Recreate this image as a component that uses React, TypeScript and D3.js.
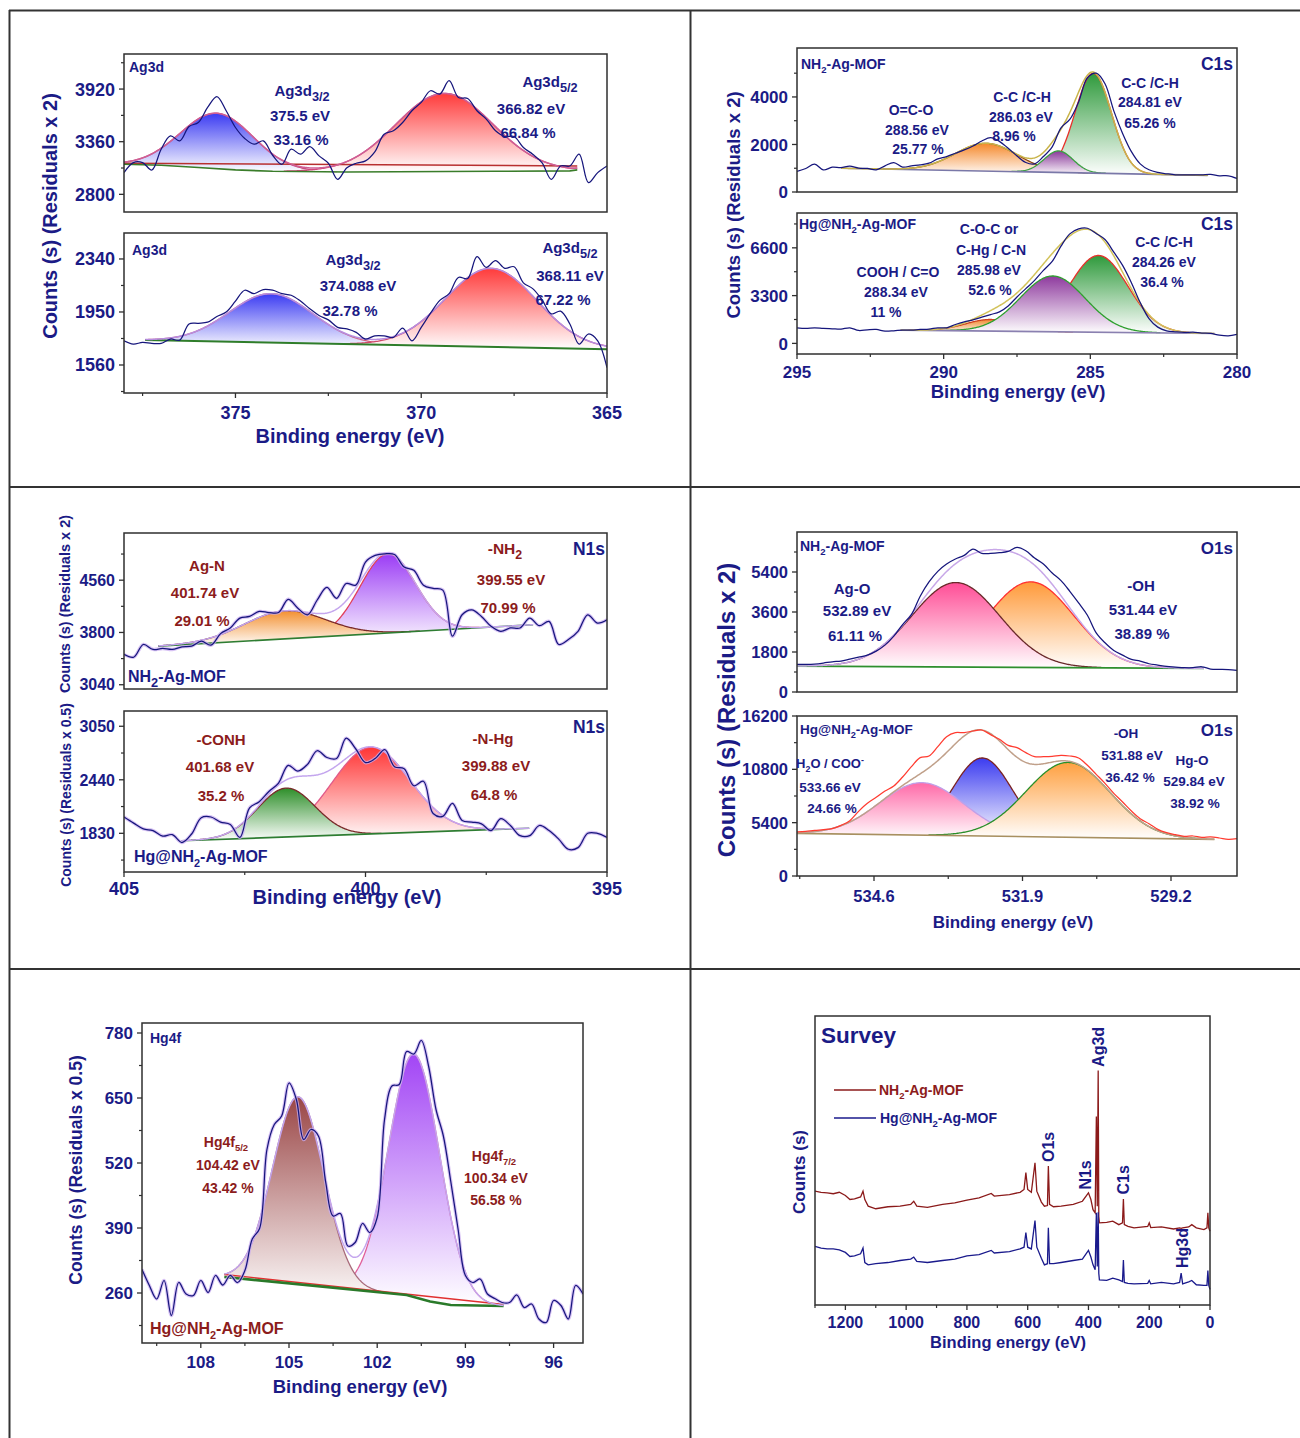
import React from "react";
import * as d3 from "d3";

const NAVY = "#1b1b86";
const LINE_NAVY = "#16167c";
const DRED = "#8c1c1c";
const AX = "#2f2f2f";
const FONT = "'Liberation Sans', Arial, Helvetica, sans-serif";

// ---------- raw spectra: counts, evenly spaced in binding energy ----------
const ag3dTopRange: [number, number] = [378, 365];
const ag3dTopCounts = [3031, 3138, 3138, 3059, 3280, 3422, 3369, 3522, 3564, 3724, 3840, 3689, 3511, 3394, 3333, 3369, 3216, 3120, 3280, 3227, 3308, 3209, 3131, 2960, 3084, 3131, 3156, 3252, 3440, 3476, 3564, 3689, 3778, 3902, 3867, 4009, 3831, 3820, 3689, 3600, 3476, 3415, 3415, 3298, 3227, 3138, 2960, 3102, 3102, 3227, 2924, 3031, 3102];
const ag3dBotRange: [number, number] = [378, 365];
const ag3dBotCounts = [1738, 1714, 1726, 1719, 1719, 1751, 1743, 1862, 1867, 1875, 1917, 1949, 2030, 2110, 2085, 2115, 2110, 2085, 2073, 2030, 1974, 1924, 1892, 1837, 1825, 1800, 1751, 1775, 1775, 1763, 1832, 1738, 1837, 1941, 2035, 2085, 2204, 2196, 2357, 2278, 2328, 2271, 2283, 2164, 2122, 2040, 1936, 1956, 1862, 1714, 1788, 1738, 1540];
const c1sTopRange: [number, number] = [295, 280];
const c1sTopCounts = [864, 990, 1171, 927, 1045, 1031, 1087, 1003, 990, 934, 1101, 1240, 1045, 1101, 1143, 1213, 1394, 1491, 1631, 1770, 1937, 2146, 2286, 2132, 1840, 1519, 1240, 1185, 1491, 1900, 2700, 3052, 3791, 4808, 5003, 4557, 3415, 2467, 1700, 1185, 934, 822, 767, 725, 725, 725, 725, 739, 683, 683, 572];
const c1sBotRange: [number, number] = [295, 280];
const c1sBotCounts = [1076, 1031, 1076, 1031, 1008, 985, 1076, 893, 939, 962, 847, 870, 916, 916, 962, 985, 1076, 1076, 1306, 1489, 1626, 1810, 1993, 2176, 2589, 3208, 3781, 4354, 5041, 5660, 6715, 7563, 7906, 7952, 7586, 7173, 6302, 5385, 4193, 2818, 1718, 1122, 870, 801, 756, 778, 710, 687, 572, 527, 618];
const n1sTopRange: [number, number] = [405, 395];
const n1sTopCounts = [3481, 3440, 3625, 3553, 3567, 3553, 3591, 3601, 3673, 3615, 3783, 3865, 4009, 4033, 4105, 4090, 4090, 4282, 4152, 4057, 4272, 4455, 4296, 4512, 4488, 4824, 4920, 4944, 4934, 4752, 4704, 4488, 4440, 4416, 3745, 4057, 4128, 4033, 3889, 3817, 3865, 3865, 4009, 3898, 3961, 3625, 3697, 3817, 4057, 3937, 3985];
const n1sBotRange: [number, number] = [405, 395];
const n1sBotCounts = [2016, 1946, 1880, 1861, 1799, 1815, 1725, 1822, 2008, 2016, 1958, 1931, 1784, 2121, 2190, 2306, 2403, 2605, 2539, 2616, 2771, 2694, 2682, 2914, 2791, 2636, 2682, 2783, 2589, 2566, 2372, 2423, 2055, 2024, 2171, 1977, 1958, 1938, 1861, 1996, 1919, 1803, 1803, 1919, 1861, 1764, 1648, 1667, 1830, 1830, 1784];
const o1sTopRange: [number, number] = [536, 528];
const o1sTopCounts = [1241, 1241, 1256, 1301, 1361, 1391, 1481, 1570, 1660, 1840, 2109, 2513, 3036, 3485, 4310, 4951, 5430, 5759, 5983, 6148, 6432, 6238, 6238, 6268, 6328, 6507, 6357, 6028, 5759, 5355, 5011, 4532, 4009, 3455, 2662, 2214, 1869, 1660, 1466, 1391, 1271, 1211, 1151, 1121, 1092, 1092, 1136, 1032, 1017, 1002, 972];
const o1sBotRange: [number, number] = [536, 528];
const o1sBotCounts = [4455, 4523, 4624, 4691, 4793, 5130, 5603, 6548, 7358, 7965, 8606, 9113, 10024, 11070, 11981, 12150, 13095, 14108, 14513, 14513, 14681, 14783, 14310, 13838, 13230, 12994, 12488, 12083, 12083, 12116, 12218, 12150, 11948, 11205, 10294, 9383, 8370, 7493, 6581, 5805, 5299, 4725, 4388, 4185, 4016, 4050, 3915, 3949, 3848, 3713, 3780];
const hg4fRange: [number, number] = [110, 95];
const hg4fCounts = [307, 275, 248, 285, 215, 281, 258, 255, 285, 261, 295, 276, 295, 281, 305, 368, 389, 547, 597, 614, 680, 647, 567, 587, 574, 481, 414, 419, 354, 361, 399, 381, 411, 607, 674, 677, 743, 738, 765, 713, 627, 574, 484, 388, 295, 281, 288, 258, 249, 241, 241, 256, 231, 238, 208, 201, 245, 235, 208, 275, 258];

// ---------- fitted components: [centre eV, height above background, FWHM eV] ----------
const ag3dTopPeaks = [[375.5, 590, 2.3], [369.38, 831, 3.07]];
const ag3dBotPeaks = [[374.04, 360, 2.65], [368.12, 578, 2.88]];
const c1sTopPeaks = [[288.55, 1168, 2.49], [284.9, 4200, 1.46], [286.08, 906, 1.16]];
const c1sBotPeaks = [[288.4, 800, 2.0], [284.72, 5300, 2.35], [286.28, 3850, 2.6]];
const n1sTopPeaks = [[399.54, 1150, 1.35], [401.67, 408, 1.98]];
const n1sBotPeaks = [[399.89, 987, 1.9], [401.64, 557, 1.4]];
const o1sTopPeaks = [[531.75, 3850, 1.85], [533.11, 3800, 1.88]];
const o1sBotPeaks = [[532.63, 7900, 1.27], [533.73, 5312, 1.8], [531.07, 7573, 1.8]];
const hg4fPeaks = [[100.74, 486, 2.05], [104.69, 375, 2.05]];

// ---------- backgrounds ----------
const ag3dTopBgE = [378, 377, 376, 375, 374, 372, 368, 366, 365.8];
const ag3dTopBgC = [3120, 3110, 3085, 3060, 3045, 3038, 3045, 3050, 3060];
const ag3dTopLinE = [378, 365.8];
const ag3dTopLinC = [3131, 3102];
const ag3dBotBgE = [377.43, 365];
const ag3dBotBgC = [1743, 1676];
const c1sTopBgE = [293.5, 281];
const c1sTopBgC = [1000, 700];
const c1sBotBgE = [291.47, 280.77];
const c1sBotBgC = [916, 687];
const n1sTopBgE = [404.29, 396.53];
const n1sTopBgC = [3601, 3913];
const n1sBotBgE = [403.81, 396.61];
const n1sBotBgC = [1745, 1888];
const o1sTopBgE = [536, 528.6];
const o1sTopBgC = [1166, 1062];
const o1sBotBgE = [536, 528.41];
const o1sBotBgC = [4320, 3713];
const hg4fBgE = [107.2, 101, 100.2, 99.5, 97.7];
const hg4fBgC = [292, 256, 243, 236, 234];
const hg4fLinE = [107.2, 97.7];
const hg4fLinC = [297, 237];

// ---------- tick values ----------
const ag3dTopTicks = [2800, 3360, 3920];
const ag3dBotTicks = [1560, 1950, 2340];
const ag3dXTicks = [375, 370, 365];
const c1sTopTicks = [0, 2000, 4000];
const c1sBotTicks = [0, 3300, 6600];
const c1sXTicks = [295, 290, 285, 280];
const n1sTopTicks = [3040, 3800, 4560];
const n1sBotTicks = [1830, 2440, 3050];
const n1sXTicks = [405, 400, 395];
const o1sTopTicks = [0, 1800, 3600, 5400];
const o1sBotTicks = [0, 5400, 10800, 16200];
const o1sXTicks = [534.6, 531.9, 529.2];
const hg4fTicks = [260, 390, 520, 650, 780];
const hg4fXTicks = [108, 105, 102, 99, 96];

// ---------- survey ----------
const surveyEnergy = [1300, 1280, 1260, 1240, 1220, 1200, 1185, 1170, 1150, 1142, 1136, 1125, 1100, 1060, 1020, 985, 975, 965, 930, 880, 840, 800, 760, 720, 710, 660, 625, 612, 606, 600, 588, 576, 570, 555, 545, 535, 532, 528, 515, 490, 450, 420, 400, 392, 385, 378, 374, 371, 368, 366, 364, 340, 320, 300, 288, 285, 282, 270, 250, 205, 200, 195, 160, 120, 100, 95, 90, 70, 60, 45, 20, 10, 7, 4, 0];
const surveyMof = [39.4, 39.0, 38.8, 38.5, 39.0, 37.9, 36.5, 36.7, 37.4, 39.4, 36.5, 34.2, 33.3, 34.0, 34.2, 34.8, 35.9, 34.2, 33.8, 34.8, 35.3, 36.3, 37.1, 38.6, 37.7, 38.2, 39.0, 40.0, 45.8, 40.0, 39.0, 49.2, 39.4, 35.6, 34.2, 34.4, 48.1, 34.8, 34.0, 34.2, 34.8, 35.9, 38.8, 36.5, 33.0, 31.9, 65.2, 34.2, 81.1, 30.7, 28.4, 28.6, 29.0, 27.8, 28.4, 36.7, 27.8, 27.2, 26.7, 27.2, 28.4, 26.8, 27.0, 26.3, 26.7, 26.5, 26.7, 27.0, 27.8, 26.7, 26.1, 26.7, 31.9, 26.7, 25.5];
const surveyHgMof = [20.3, 19.7, 19.4, 19.4, 19.1, 18.2, 16.8, 17.0, 17.7, 19.7, 14.7, 13.9, 14.3, 14.7, 15.4, 15.9, 16.6, 15.1, 14.7, 15.4, 15.9, 17.0, 17.4, 18.9, 18.0, 18.5, 19.4, 20.0, 25.1, 20.0, 19.4, 29.2, 20.0, 16.2, 13.9, 14.3, 26.7, 14.3, 14.3, 14.7, 15.4, 15.9, 18.9, 16.6, 13.9, 12.2, 31.9, 13.3, 32.1, 11.0, 8.7, 8.5, 9.3, 8.7, 8.1, 15.6, 7.8, 7.5, 7.3, 7.5, 8.5, 7.3, 7.8, 7.3, 7.8, 11.0, 7.3, 8.0, 8.5, 7.0, 6.8, 6.8, 11.9, 6.8, 5.4];
const surveyXTicks = [1200, 1000, 800, 600, 400, 200, 0];
const surveyPeakNames = ["Ag3d", "O1s", "N1s", "C1s", "Hg3d"];
const surveyPeakE = [369, 533, 411, 286, 92];
const surveyPeakV = [89.3, 54.7, 45, 43.3, 19.7];

// ---------- helpers ----------
type Lab = { t: string; dx: number; dy: number; a?: "start" | "middle" | "end"; s?: number; c?: string };

function rich(str: string, size: number, subScale = 0.68) {
  const parts = str.split(/(_\{[^}]*\}|\^\{[^}]*\})/).filter((p) => p !== "");
  let shift = 0;
  return parts.map((p, i) => {
    let target = 0;
    let txt = p;
    let fs: number | undefined;
    if (p.startsWith("_{")) {
      target = size * 0.3;
      txt = p.slice(2, -1);
      fs = size * subScale;
    } else if (p.startsWith("^{")) {
      target = -size * 0.38;
      txt = p.slice(2, -1);
      fs = size * subScale;
    }
    const el = (
      <tspan key={i} dy={target - shift} fontSize={fs}>
        {txt}
      </tspan>
    );
    shift = target;
    return el;
  });
}

function minorOf(t: number[], dom: [number, number]) {
  const st = t[1] - t[0];
  const lo = Math.min(dom[0], dom[1]);
  const hi = Math.max(dom[0], dom[1]);
  return [t[0] - st / 2, ...t.map((v) => v + st / 2)].filter((v) => v >= lo - 1e-9 && v <= hi + 1e-9);
}

type Sub = {
  id: string;
  box: [number, number, number, number];
  xDom: [number, number];
  yDom: [number, number];
  yTicks: number[];
  tick: number;
  xTicks?: number[];
  xTick?: number;
  xGap?: number;
  range: [number, number];
  counts: number[];
  rawColor: string;
  shadow?: boolean;
  fit: [number, number];
  bgE: number[];
  bgC: number[];
  bgColor: string;
  bgWidth?: number;
  linE?: number[];
  linC?: number[];
  linColor?: string;
  peaks: number[][];
  fills: string[];
  strokes: string[];
  env: string;
  labels: Lab[];
  subScale?: number;
};

function SubPlot({ s }: { s: Sub }) {
  const [bx, by, bw, bh] = s.box;
  const x = d3.scaleLinear().domain(s.xDom).range([bx, bx + bw]);
  const y = d3.scaleLinear().domain(s.yDom).range([by + bh, by]);
  const bg = d3.scaleLinear().domain(s.bgE).range(s.bgC).clamp(true);
  const n = s.counts.length;
  const raw = s.counts.map(
    (v, i) => [s.range[0] + ((s.range[1] - s.range[0]) * i) / (n - 1), v] as [number, number]
  );
  const grid = d3.range(0, 401).map((i) => s.fit[0] + ((s.fit[1] - s.fit[0]) * i) / 400);
  const gauss = (p: number[], e: number) => p[1] * Math.exp(-4 * Math.LN2 * ((e - p[0]) / p[2]) ** 2);
  const envF = (e: number) => bg(e) + d3.sum(s.peaks, (p) => gauss(p, e));
  const pl = d3
    .line<[number, number]>()
    .x((d) => x(d[0]))
    .y((d) => y(d[1]));
  const smooth = d3
    .line<[number, number]>()
    .x((d) => x(d[0]))
    .y((d) => y(d[1]))
    .curve(d3.curveCatmullRom.alpha(0.5));
  const clip = `clip-${s.id}`;
  const yMinor = minorOf(s.yTicks, s.yDom);
  const xMinor = s.xTicks ? minorOf(s.xTicks, s.xDom) : [];
  const bgPts = s.bgE.map((e, i) => [e, s.bgC[i]] as [number, number]);
  const linPts = s.linE ? s.linE.map((e, i) => [e, s.linC![i]] as [number, number]) : null;

  return (
    <g>
      <defs>
        <clipPath id={clip}>
          <rect x={bx} y={by} width={bw} height={bh} />
        </clipPath>
        {s.peaks.map((_, i) => (
          <linearGradient key={i} id={`${s.id}-g${i}`} x1="0" y1="0" x2="0" y2="1">
            <stop offset="0" stopColor={s.fills[i]} />
            <stop offset="1" stopColor="#ffffff" />
          </linearGradient>
        ))}
      </defs>
      <g clipPath={`url(#${clip})`}>
        {s.peaks.map((p, i) => {
          const a = d3
            .area<number>()
            .x((e) => x(e))
            .y0((e) => y(bg(e)))
            .y1((e) => y(bg(e) + gauss(p, e)));
          const l = d3
            .line<number>()
            .x((e) => x(e))
            .y((e) => y(bg(e) + gauss(p, e)));
          const on = grid.filter((e) => gauss(p, e) > p[1] * 0.004);
          return (
            <g key={i}>
              <path d={a(grid) || ""} fill={`url(#${s.id}-g${i})`} />
              <path d={l(on) || ""} fill="none" stroke={s.strokes[i]} strokeWidth={1.3} />
            </g>
          );
        })}
        {linPts && <path d={pl(linPts) || ""} fill="none" stroke={s.linColor} strokeWidth={1.4} />}
        <path d={pl(bgPts) || ""} fill="none" stroke={s.bgColor} strokeWidth={s.bgWidth || 1.6} />
        <path
          d={pl(grid.map((e) => [e, envF(e)] as [number, number])) || ""}
          fill="none"
          stroke={s.env}
          strokeWidth={1.5}
        />
        {s.shadow && (
          <path d={smooth(raw) || ""} fill="none" stroke="#c9aef0" strokeWidth={3.4} strokeOpacity={0.75} />
        )}
        <path d={smooth(raw) || ""} fill="none" stroke={s.rawColor} strokeWidth={1.25} />
      </g>
      <rect x={bx} y={by} width={bw} height={bh} fill="none" stroke={AX} strokeWidth={1.5} />
      {s.yTicks.map((v) => (
        <g key={`y${v}`}>
          <line x1={bx} x2={bx - 5} y1={y(v)} y2={y(v)} stroke={AX} strokeWidth={1.3} />
          <text
            x={bx - 9}
            y={y(v)}
            dy="0.36em"
            textAnchor="end"
            fontSize={s.tick}
            fontWeight="bold"
            fill={NAVY}
          >
            {String(v)}
          </text>
        </g>
      ))}
      {yMinor.map((v) => (
        <line key={`ym${v}`} x1={bx} x2={bx - 3} y1={y(v)} y2={y(v)} stroke={AX} strokeWidth={1.2} />
      ))}
      {s.xTicks &&
        s.xTicks.map((v) => (
          <g key={`x${v}`}>
            <line x1={x(v)} x2={x(v)} y1={by + bh} y2={by + bh + 5} stroke={AX} strokeWidth={1.3} />
            <text
              x={x(v)}
              y={by + bh + (s.xGap || 24)}
              textAnchor="middle"
              fontSize={s.xTick || s.tick}
              fontWeight="bold"
              fill={NAVY}
            >
              {String(v)}
            </text>
          </g>
        ))}
      {xMinor.map((v) => (
        <line key={`xm${v}`} x1={x(v)} x2={x(v)} y1={by + bh} y2={by + bh + 3} stroke={AX} strokeWidth={1.2} />
      ))}
      {s.labels.map((lb, i) => (
        <text
          key={`l${i}`}
          x={bx + lb.dx}
          y={by + lb.dy}
          textAnchor={lb.a || "middle"}
          fontSize={lb.s || 15}
          fontWeight="bold"
          fill={lb.c || NAVY}
        >
          {rich(lb.t, lb.s || 15, s.subScale)}
        </text>
      ))}
    </g>
  );
}

function Survey() {
  const [bx, by, bw, bh] = [815, 1016, 395, 289];
  const x = d3.scaleLinear().domain([1300, 0]).range([bx, bx + bw]);
  const y = d3.scaleLinear().domain([0, 100]).range([by + bh, by]);
  const mk = (vals: number[]) =>
    d3
      .line<number>()
      .x((_, i) => x(surveyEnergy[i]))
      .y((v) => y(v))(vals) || "";
  const minor = minorOf(surveyXTicks, [1300, 0]);
  return (
    <g>
      <path d={mk(surveyMof)} fill="none" stroke="#8b1a1a" strokeWidth={1.3} />
      <path d={mk(surveyHgMof)} fill="none" stroke="#1a1a8c" strokeWidth={1.3} />
      <rect x={bx} y={by} width={bw} height={bh} fill="none" stroke={AX} strokeWidth={1.5} />
      {surveyXTicks.map((v) => (
        <g key={v}>
          <line x1={x(v)} x2={x(v)} y1={by + bh} y2={by + bh + 5} stroke={AX} strokeWidth={1.3} />
          <text x={x(v)} y={by + bh + 23} textAnchor="middle" fontSize={16} fontWeight="bold" fill={NAVY}>
            {String(v)}
          </text>
        </g>
      ))}
      {minor.map((v) => (
        <line key={`m${v}`} x1={x(v)} x2={x(v)} y1={by + bh} y2={by + bh + 3} stroke={AX} strokeWidth={1.2} />
      ))}
      {surveyPeakNames.map((nm, i) => (
        <text
          key={nm}
          transform={`translate(${x(surveyPeakE[i])},${y(surveyPeakV[i])}) rotate(-90)`}
          textAnchor="middle"
          dy="0.36em"
          fontSize={16}
          fontWeight="bold"
          fill={NAVY}
        >
          {nm}
        </text>
      ))}
      <text x={821} y={1043} fontSize={22.5} fontWeight="bold" fill={NAVY}>
        Survey
      </text>
      <line x1={834} x2={876} y1={1090} y2={1090} stroke="#8b1a1a" strokeWidth={1.5} />
      <text x={879} y={1095} fontSize={14} fontWeight="bold" fill={DRED}>
        {rich("NH_{2}-Ag-MOF", 14)}
      </text>
      <line x1={834} x2={876} y1={1118} y2={1118} stroke="#1a1a8c" strokeWidth={1.5} />
      <text x={880} y={1123} fontSize={14} fontWeight="bold" fill={NAVY}>
        {rich("Hg@NH_{2}-Ag-MOF", 14)}
      </text>
    </g>
  );
}

const subs: Sub[] = [
  {
    id: "a1",
    box: [124, 54, 483, 158],
    xDom: [378, 365],
    yDom: [2612, 4293],
    yTicks: ag3dTopTicks,
    tick: 18,
    range: ag3dTopRange,
    counts: ag3dTopCounts,
    rawColor: LINE_NAVY,
    fit: [378, 365.8],
    bgE: ag3dTopBgE,
    bgC: ag3dTopBgC,
    bgColor: "#3a7d2a",
    linE: ag3dTopLinE,
    linC: ag3dTopLinC,
    linColor: "#b83030",
    peaks: ag3dTopPeaks,
    fills: ["#3b3bf2", "#ff3b3b"],
    strokes: ["#c8507e", "#d0487a"],
    env: "#cf5f95",
    subScale: 0.85,
    labels: [
      { t: "Ag3d", dx: 5, dy: 18, a: "start", s: 14 },
      { t: "Ag3d_{3/2}", dx: 178, dy: 42 },
      { t: "375.5 eV", dx: 176, dy: 67 },
      { t: "33.16 %", dx: 177, dy: 91 },
      { t: "Ag3d_{5/2}", dx: 426, dy: 33 },
      { t: "366.82 eV", dx: 407, dy: 60 },
      { t: "66.84 %", dx: 404, dy: 84 },
    ],
  },
  {
    id: "a2",
    box: [124, 233, 483, 160],
    xDom: [378, 365],
    yDom: [1354, 2531],
    yTicks: ag3dBotTicks,
    tick: 18,
    xTicks: ag3dXTicks,
    xGap: 26,
    range: ag3dBotRange,
    counts: ag3dBotCounts,
    rawColor: LINE_NAVY,
    fit: [377.43, 365],
    bgE: ag3dBotBgE,
    bgC: ag3dBotBgC,
    bgColor: "#2f7d2a",
    bgWidth: 2,
    peaks: ag3dBotPeaks,
    fills: ["#3b3bf2", "#ff3b3b"],
    strokes: ["#d0607e", "#d04a6a"],
    env: "#b68de0",
    subScale: 0.85,
    labels: [
      { t: "Ag3d", dx: 8, dy: 22, a: "start", s: 14 },
      { t: "Ag3d_{3/2}", dx: 229, dy: 32 },
      { t: "374.088 eV", dx: 234, dy: 58 },
      { t: "32.78 %", dx: 226, dy: 83 },
      { t: "Ag3d_{5/2}", dx: 446, dy: 20 },
      { t: "368.11 eV", dx: 446, dy: 48 },
      { t: "67.22 %", dx: 439, dy: 72 },
    ],
  },
  {
    id: "c1",
    box: [797, 48, 440, 144],
    xDom: [295, 280],
    yDom: [0, 6060],
    yTicks: c1sTopTicks,
    tick: 17,
    range: c1sTopRange,
    counts: c1sTopCounts,
    rawColor: LINE_NAVY,
    fit: [293.5, 281],
    bgE: c1sTopBgE,
    bgC: c1sTopBgC,
    bgColor: "#7a78a8",
    peaks: c1sTopPeaks,
    fills: ["#f5882a", "#2f9a3c", "#8a3a9a"],
    strokes: ["#8b4513", "#e8302a", "#3aa040"],
    env: "#c9b44a",
    labels: [
      { t: "NH_{2}-Ag-MOF", dx: 4, dy: 21, a: "start", s: 14 },
      { t: "C1s", dx: 436, dy: 22, a: "end", s: 17.5 },
      { t: "O=C-O", dx: 114, dy: 67, s: 14 },
      { t: "288.56 eV", dx: 120, dy: 87, s: 14 },
      { t: "25.77 %", dx: 121, dy: 106, s: 14 },
      { t: "C-C /C-H", dx: 225, dy: 54, s: 14 },
      { t: "286.03 eV", dx: 224, dy: 74, s: 14 },
      { t: "8.96 %", dx: 217, dy: 93, s: 14 },
      { t: "C-C /C-H", dx: 353, dy: 40, s: 14 },
      { t: "284.81 eV", dx: 353, dy: 59, s: 14 },
      { t: "65.26 %", dx: 353, dy: 80, s: 14 },
    ],
  },
  {
    id: "c2",
    box: [797, 213, 440, 141],
    xDom: [295, 280],
    yDom: [-733, 9006],
    yTicks: c1sBotTicks,
    tick: 17,
    xTicks: c1sXTicks,
    xGap: 24,
    range: c1sBotRange,
    counts: c1sBotCounts,
    rawColor: LINE_NAVY,
    fit: [291.47, 280.77],
    bgE: c1sBotBgE,
    bgC: c1sBotBgC,
    bgColor: "#8a80b0",
    peaks: c1sBotPeaks,
    fills: ["#f08a30", "#2f9a3c", "#8e3a9e"],
    strokes: ["#d04020", "#e8302a", "#2ea02e"],
    env: "#d2c25a",
    labels: [
      { t: "Hg@NH_{2}-Ag-MOF", dx: 2, dy: 16, a: "start", s: 14 },
      { t: "C1s", dx: 436, dy: 17, a: "end", s: 17.5 },
      { t: "C-O-C or", dx: 192, dy: 21, s: 14 },
      { t: "C-Hg / C-N", dx: 194, dy: 42, s: 14 },
      { t: "285.98 eV", dx: 192, dy: 62, s: 14 },
      { t: "52.6 %", dx: 193, dy: 82, s: 14 },
      { t: "COOH / C=O", dx: 101, dy: 64, s: 14 },
      { t: "288.34 eV", dx: 99, dy: 84, s: 14 },
      { t: "11 %", dx: 89, dy: 104, s: 14 },
      { t: "C-C /C-H", dx: 367, dy: 34, s: 14 },
      { t: "284.26 eV", dx: 367, dy: 54, s: 14 },
      { t: "36.4 %", dx: 365, dy: 74, s: 14 },
    ],
  },
  {
    id: "n1",
    box: [124, 533, 483, 156],
    xDom: [405, 395],
    yDom: [2978, 5246],
    yTicks: n1sTopTicks,
    tick: 16,
    range: n1sTopRange,
    counts: n1sTopCounts,
    rawColor: LINE_NAVY,
    shadow: true,
    fit: [404.29, 396.53],
    bgE: n1sTopBgE,
    bgC: n1sTopBgC,
    bgColor: "#2e7d32",
    peaks: n1sTopPeaks,
    fills: ["#9b3cf5", "#f39030"],
    strokes: ["#e0405a", "#7a2a2a"],
    env: "#c4a6ee",
    labels: [
      { t: "N1s", dx: 481, dy: 22, a: "end", s: 17.5 },
      { t: "NH_{2}-Ag-MOF", dx: 4, dy: 149, a: "start", s: 16 },
      { t: "Ag-N", dx: 83, dy: 38, c: DRED },
      { t: "401.74 eV", dx: 81, dy: 65, c: DRED },
      { t: "29.01 %", dx: 78, dy: 93, c: DRED },
      { t: "-NH_{2}", dx: 381, dy: 21, c: DRED, s: 15.5 },
      { t: "399.55 eV", dx: 387, dy: 52, c: DRED },
      { t: "70.99 %", dx: 384, dy: 80, c: DRED },
    ],
    subScale: 0.8,
  },
  {
    id: "n2",
    box: [124, 711, 483, 161],
    xDom: [405, 395],
    yDom: [1389, 3224],
    yTicks: n1sBotTicks,
    tick: 16,
    xTicks: n1sXTicks,
    xTick: 18,
    xGap: 23,
    range: n1sBotRange,
    counts: n1sBotCounts,
    rawColor: LINE_NAVY,
    shadow: true,
    fit: [403.81, 396.61],
    bgE: n1sBotBgE,
    bgC: n1sBotBgC,
    bgColor: "#2e7d32",
    peaks: n1sBotPeaks,
    fills: ["#ff3535", "#2e8f2a"],
    strokes: ["#e05a8a", "#7a2a2a"],
    env: "#c4a6ee",
    labels: [
      { t: "N1s", dx: 481, dy: 22, a: "end", s: 17.5 },
      { t: "Hg@NH_{2}-Ag-MOF", dx: 10, dy: 151, a: "start", s: 16 },
      { t: "-CONH", dx: 97, dy: 34, c: DRED },
      { t: "401.68 eV", dx: 96, dy: 61, c: DRED },
      { t: "35.2 %", dx: 97, dy: 90, c: DRED },
      { t: "-N-Hg", dx: 369, dy: 33, c: DRED },
      { t: "399.88 eV", dx: 372, dy: 60, c: DRED },
      { t: "64.8 %", dx: 370, dy: 89, c: DRED },
    ],
  },
  {
    id: "o1",
    box: [797, 532, 440, 160],
    xDom: [536, 528],
    yDom: [0, 7200],
    yTicks: o1sTopTicks,
    tick: 16.5,
    range: o1sTopRange,
    counts: o1sTopCounts,
    rawColor: LINE_NAVY,
    fit: [536, 528.6],
    bgE: o1sTopBgE,
    bgC: o1sTopBgC,
    bgColor: "#2e8f2e",
    peaks: o1sTopPeaks,
    fills: ["#ff9a3a", "#ff4d96"],
    strokes: ["#ff3030", "#6a2a2a"],
    env: "#c8a8e8",
    labels: [
      { t: "NH_{2}-Ag-MOF", dx: 3, dy: 19, a: "start", s: 14 },
      { t: "O1s", dx: 436, dy: 22, a: "end", s: 17 },
      { t: "Ag-O", dx: 55, dy: 62 },
      { t: "532.89 eV", dx: 60, dy: 84 },
      { t: "61.11 %", dx: 58, dy: 109 },
      { t: "-OH", dx: 344, dy: 59 },
      { t: "531.44 eV", dx: 346, dy: 83 },
      { t: "38.89 %", dx: 345, dy: 107 },
    ],
  },
  {
    id: "o2",
    box: [797, 716, 440, 160],
    xDom: [536, 528],
    yDom: [0, 16200],
    yTicks: o1sBotTicks,
    tick: 16.5,
    xTicks: o1sXTicks,
    xGap: 26,
    range: o1sBotRange,
    counts: o1sBotCounts,
    rawColor: "#ff3b30",
    fit: [536, 528.41],
    bgE: o1sBotBgE,
    bgC: o1sBotBgC,
    bgColor: "#a89060",
    peaks: o1sBotPeaks,
    fills: ["#3c3cf0", "#ff6aa8", "#ffa040"],
    strokes: ["#7a2222", "#c0a0e8", "#2a8f2a"],
    env: "#c0a08a",
    labels: [
      { t: "Hg@NH_{2}-Ag-MOF", dx: 3, dy: 18, a: "start", s: 13.5 },
      { t: "O1s", dx: 436, dy: 20, a: "end", s: 17 },
      { t: "H_{2}O / COO^{-}", dx: 33, dy: 52, s: 13 },
      { t: "533.66 eV", dx: 33, dy: 76, s: 13.5 },
      { t: "24.66 %", dx: 35, dy: 97, s: 13.5 },
      { t: "-OH", dx: 329, dy: 22, s: 13.5 },
      { t: "531.88 eV", dx: 335, dy: 44, s: 13.5 },
      { t: "36.42 %", dx: 333, dy: 66, s: 13.5 },
      { t: "Hg-O", dx: 395, dy: 49, s: 13.5 },
      { t: "529.84 eV", dx: 397, dy: 70, s: 13.5 },
      { t: "38.92 %", dx: 398, dy: 92, s: 13.5 },
    ],
  },
  {
    id: "h",
    box: [142, 1023, 441, 320],
    xDom: [110, 95],
    yDom: [160, 800],
    yTicks: hg4fTicks,
    tick: 17,
    xTicks: hg4fXTicks,
    xGap: 25,
    range: hg4fRange,
    counts: hg4fCounts,
    rawColor: LINE_NAVY,
    shadow: true,
    fit: [107.2, 97.7],
    bgE: hg4fBgE,
    bgC: hg4fBgC,
    bgColor: "#2a7a2a",
    bgWidth: 2.6,
    linE: hg4fLinE,
    linC: hg4fLinC,
    linColor: "#e03030",
    peaks: hg4fPeaks,
    fills: ["#a245f5", "#9a4646"],
    strokes: ["#e0609a", "#a86a7a"],
    env: "#c4a6ee",
    labels: [
      { t: "Hg4f", dx: 8, dy: 20, a: "start", s: 14 },
      { t: "Hg@NH_{2}-Ag-MOF", dx: 8, dy: 311, a: "start", s: 16, c: DRED },
      { t: "Hg4f_{5/2}", dx: 84, dy: 124, s: 14, c: DRED },
      { t: "104.42 eV", dx: 86, dy: 147, s: 14, c: DRED },
      { t: "43.42 %", dx: 86, dy: 170, s: 14, c: DRED },
      { t: "Hg4f_{7/2}", dx: 352, dy: 138, s: 14, c: DRED },
      { t: "100.34 eV", dx: 354, dy: 160, s: 14, c: DRED },
      { t: "56.58 %", dx: 354, dy: 182, s: 14, c: DRED },
    ],
  },
];

function VTitle({ x, y, size, text }: { x: number; y: number; size: number; text: string }) {
  return (
    <text
      transform={`translate(${x},${y}) rotate(-90)`}
      textAnchor="middle"
      dy="0.36em"
      fontSize={size}
      fontWeight="bold"
      fill={NAVY}
    >
      {text}
    </text>
  );
}

function HTitle({ x, y, size, text }: { x: number; y: number; size: number; text: string }) {
  return (
    <text x={x} y={y} textAnchor="middle" fontSize={size} fontWeight="bold" fill={NAVY}>
      {text}
    </text>
  );
}

export default function App() {
  return (
    <svg
      width={1300}
      height={1438}
      style={{ position: "absolute", left: 0, top: 0, background: "#fff" }}
      fontFamily={FONT}
    >
      <rect x={0} y={0} width={1300} height={1438} fill="#fff" />
      <g stroke="#333" strokeWidth={2} fill="none">
        <line x1={9} x2={1300} y1={10.5} y2={10.5} />
        <line x1={9.5} x2={9.5} y1={10} y2={1438} />
        <line x1={9} x2={1300} y1={487} y2={487} />
        <line x1={9} x2={1300} y1={969} y2={969} />
        <line x1={690.5} x2={690.5} y1={10} y2={1438} />
      </g>
      {subs.map((s) => (
        <SubPlot key={s.id} s={s} />
      ))}
      <Survey />
      <VTitle x={50} y={216} size={20} text="Counts (s) (Residuals x 2)" />
      <HTitle x={350} y={443} size={20} text="Binding energy (eV)" />
      <VTitle x={733} y={205} size={18.5} text="Counts (s) (Residuals x 2)" />
      <HTitle x={1018} y={398} size={18.5} text="Binding energy (eV)" />
      <VTitle x={65} y={604} size={14.5} text="Counts (s) (Residuals x 2)" />
      <VTitle x={66} y={795} size={14} text="Counts (s) (Residuals x 0.5)" />
      <HTitle x={347} y={904} size={20} text="Binding energy (eV)" />
      <VTitle x={726} y={710} size={24} text="Counts (s) (Residuals x 2)" />
      <HTitle x={1013} y={928} size={17} text="Binding energy (eV)" />
      <VTitle x={76} y={1170} size={17.5} text="Counts (s) (Residuals x 0.5)" />
      <HTitle x={360} y={1393} size={18.5} text="Binding energy (eV)" />
      <VTitle x={799} y={1172} size={17} text="Counts (s)" />
      <HTitle x={1008} y={1348} size={16.5} text="Binding energy (eV)" />
    </svg>
  );
}
